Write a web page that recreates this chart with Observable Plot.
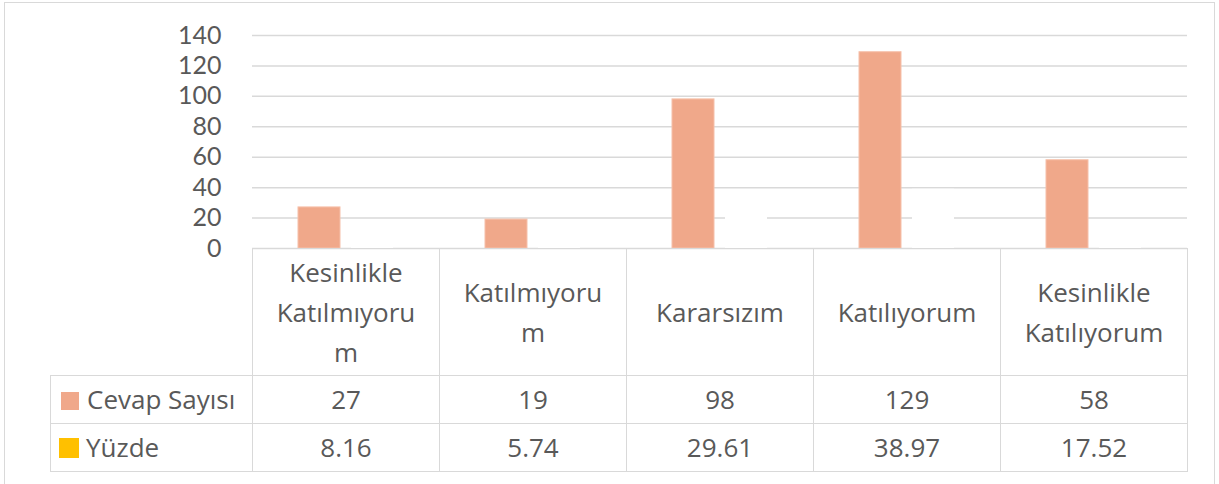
<!DOCTYPE html>
<html><head><meta charset="utf-8">
<script src="https://cdn.jsdelivr.net/npm/d3@7"></script>
<script src="https://cdn.jsdelivr.net/npm/@observablehq/plot@0.6"></script>
<style>
body{margin:0;background:#fff;font-family:"Open Sans",sans-serif;color:#595959}
#wrap{position:relative;width:1219px;height:484px;overflow:hidden}
#frame{position:absolute;left:4px;top:2px;width:1211px;height:540px;border:1.5px solid #d9d9d9;box-sizing:border-box}
#chart{position:absolute;left:0;top:0}
#tbl{position:absolute;left:50px;top:247.5px;border-collapse:collapse;table-layout:fixed;font-size:26px;color:#595959;font-family:"Open Sans",sans-serif}
#tbl td{border:1.5px solid #d9d9d9;text-align:center;padding:0;line-height:40px;white-space:nowrap;overflow:visible}
#tbl td.blank{border:none}
#tbl td.lab{text-align:left;padding-left:10px}
.sw{display:inline-block;width:18px;height:18px;margin-right:8px;vertical-align:-1px}
</style></head>
<body><div id="wrap"><div id="frame"></div><div id="chart"></div><table id="tbl"></table></div>
<script>
const categories = ["Kesinlikle Katılmıyorum", "Katılmıyorum", "Kararsızım", "Katılıyorum", "Kesinlikle Katılıyorum"];
const categoryLabels = [["Kesinlikle", "Katılmıyoru", "m"], ["Katılmıyoru", "m"], ["Kararsızım"], ["Katılıyorum"], ["Kesinlikle", "Katılıyorum"]];
const seriesNames = ["Cevap Sayısı", "Yüzde"];
const cevapSayisi = [27, 19, 98, 129, 58];
const yuzde = [8.16, 5.74, 29.61, 38.97, 17.52];
const yuzdeLabels = ["8.16", "5.74", "29.61", "38.97", "17.52"];
const yTicks = [0, 20, 40, 60, 80, 100, 120, 140];
const colors = ["#F0A88A", "#FFC000"];

const cevapData = categories.map((c, i) => ({cat: c, value: cevapSayisi[i]}));
const yuzdeData = categories.map((c, i) => ({cat: c, value: yuzde[i]}));

const chart = Plot.plot({
  width: 1219, height: 260,
  marginLeft: 252, marginRight: 32, marginTop: 35, marginBottom: 12,
  style: {fontFamily: "Lato, sans-serif", fontSize: "25px", color: "#595959", background: "transparent", overflow: "visible"},
  x: {domain: categories, padding: 0, axis: null},
  y: {domain: [0, 140]},
  marks: [
    Plot.gridY(yTicks, {stroke: "#d9d9d9", strokeOpacity: 1, strokeWidth: 1.5}),
    Plot.axisY(yTicks, {tickSize: 0, tickPadding: 31, fill: "#595959", fontSize: 25, label: null}),
    Plot.barY(cevapData, {x: "cat", y: "value", fill: colors[0], stroke: "#f6c0aa", strokeWidth: 1, insetLeft: 46, insetRight: 99}),
    Plot.barY(yuzdeData, {x: "cat", y: "value", fill: "#ffffff", insetLeft: 99, insetRight: 46})
  ]
});
document.getElementById("chart").appendChild(chart);

const tbl = document.getElementById("tbl");
let html = '<colgroup><col style="width:202px">' + categories.map(() => '<col style="width:187px">').join("") + '</colgroup>';
html += '<tr style="height:127px"><td class="blank"></td>' + categoryLabels.map(l => `<td>${l.join("<br>")}</td>`).join("") + '</tr>';
html += `<tr style="height:48px"><td class="lab"><span class="sw" style="background:${colors[0]}"></span>${seriesNames[0]}</td>` + cevapSayisi.map(v => `<td>${v}</td>`).join("") + '</tr>';
html += `<tr style="height:48px"><td class="lab"><span class="sw" style="background:${colors[1]};width:20px;height:20px;margin-left:-2px;margin-right:7px"></span>${seriesNames[1]}</td>` + yuzdeLabels.map(v => `<td>${v}</td>`).join("") + '</tr>';
tbl.innerHTML = html;
</script>
</body></html>
